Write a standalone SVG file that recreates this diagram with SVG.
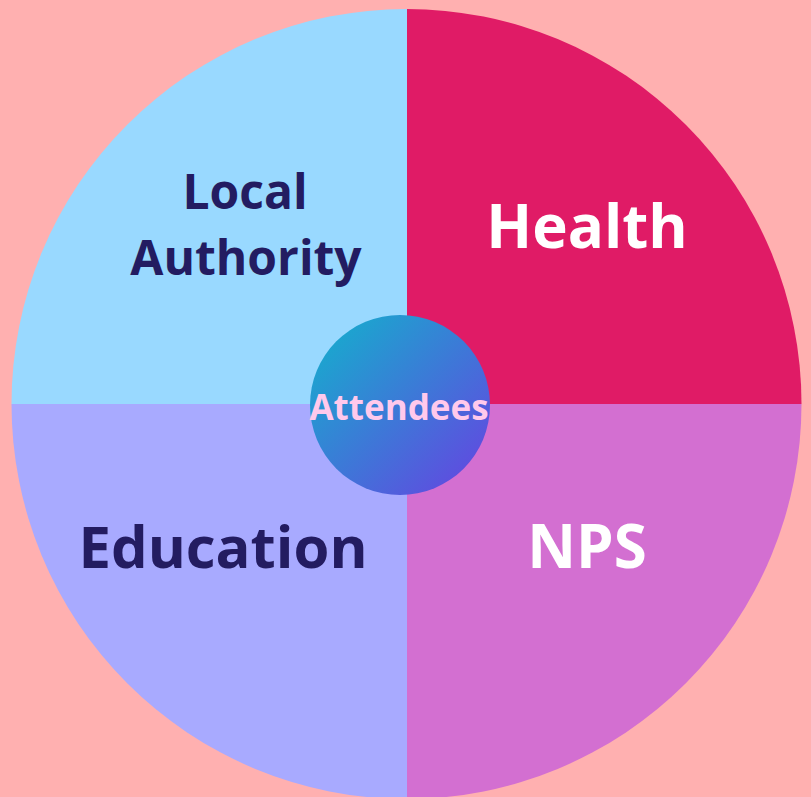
<svg xmlns="http://www.w3.org/2000/svg" width="811" height="797" viewBox="0 0 811 797">
<defs>
<linearGradient id="g" x1="0" y1="0" x2="1" y2="1">
<stop offset="0" stop-color="#10b4cc"/>
<stop offset="1" stop-color="#6840e2"/>
</linearGradient>
<clipPath id="c"><circle cx="406.5" cy="404" r="395"/></clipPath>
</defs>
<style>
text{font-family:"Open Sans","Noto Sans",sans-serif;font-weight:bold;text-anchor:middle}
.dark{fill:#231c61}
.light{fill:#ffffff}
</style>
<rect width="811" height="797" fill="#ffb0b0"/>
<g id="quadrants" clip-path="url(#c)">
<g id="local-authority"><rect x="0" y="0" width="407" height="404" fill="#99d9ff"/></g>
<g id="health"><rect x="407" y="0" width="404" height="404" fill="#e01b66"/></g>
<g id="education"><rect x="0" y="404" width="407" height="400" fill="#a8aaff"/></g>
<g id="nps"><rect x="407" y="404" width="404" height="400" fill="#d36fd1"/></g>
</g>
<g id="connectors"/>
<g id="labels">
<text class="dark" x="245" y="209" font-size="48">Local</text>
<text class="dark" x="246" y="275" font-size="48">Authority</text>
<text class="light" x="587" y="248" font-size="60">Health</text>
<text class="dark" x="223" y="568" font-size="58">Education</text>
<text class="light" x="587" y="568" font-size="60">NPS</text>
</g>
<g id="attendees">
<circle cx="400" cy="405" r="90" fill="url(#g)"/>
<text x="399" y="420" font-size="35" fill="#ffc9ec">Attendees</text>
</g>
</svg>
